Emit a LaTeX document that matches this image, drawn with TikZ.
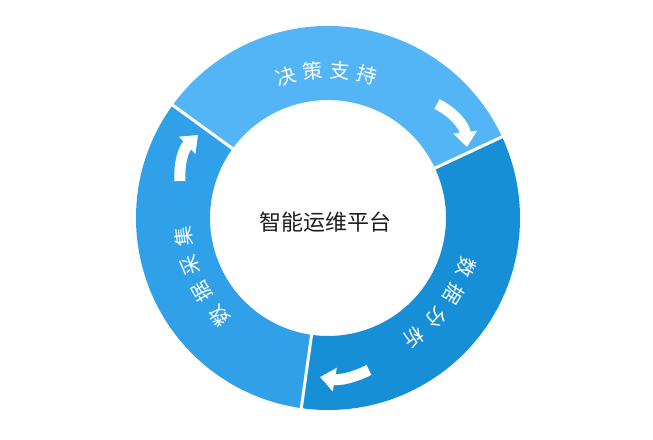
\documentclass[tikz,border=0pt]{standalone}
\usepackage{fontspec}
\newfontfamily\cjk{Noto Sans CJK SC}
\usetikzlibrary{arrows.meta}
\definecolor{segtop}{RGB}{84,181,246}
\definecolor{segleft}{RGB}{48,160,232}
\definecolor{segright}{RGB}{22,143,214}
\definecolor{hubtext}{RGB}{30,30,30}
\tikzset{
  ringlabel/.style={text=white, font=\cjk\fontsize{20}{20}\selectfont, inner sep=0pt},
  hublabel/.style={text=hubtext, font=\cjk\fontsize{22}{22}\selectfont, inner sep=0pt},
  cycarrow/.style={draw=white, line width=11pt, -{Triangle[length=15pt,width=23pt]}},
  divider/.style={draw=white, line width=3pt},
}
\begin{document}
\begin{tikzpicture}[x=1pt,y=1pt]
\useasboundingbox[fill=white] (0,0) rectangle (653,439);
\coordinate (C) at (328,221);
\begin{scope}[shift={(C)}]
  % ring sectors
  \fill[segtop] (25:192pt) arc[start angle=25,end angle=144,radius=192pt]
     -- (144:118pt) arc[start angle=144,end angle=25,radius=118pt] -- cycle;
  \fill[segleft] (144:192pt) arc[start angle=144,end angle=262,radius=192pt]
     -- (262:118pt) arc[start angle=262,end angle=144,radius=118pt] -- cycle;
  \fill[segright] (262:192pt) arc[start angle=262,end angle=385,radius=192pt]
     -- (25:118pt) arc[start angle=385,end angle=262,radius=118pt] -- cycle;
  % dividers
  \draw[divider] (25:116pt) -- (25:194pt);
  \draw[divider] (144:116pt) -- (144:194pt);
  \draw[divider] (262:116pt) -- (262:194pt);
  % ring labels
  \foreach \ch/\a [count=\i] in {决/106.5,策/95.9,支/85.3,持/74.7}
    \node[ringlabel, rotate=\a-90] (top\i) at (\a:148pt) {\ch};
  \foreach \ch/\a [count=\i] in {数/222,据/210.5,采/199,集/187.5}
    \node[ringlabel, rotate=\a-90] (left\i) at (\a:146pt) {\ch};
  \foreach \ch/\a [count=\i] in {数/-19.7,据/-31.3,分/-42.9,析/-54.5}
    \node[ringlabel, rotate=\a-90] (right\i) at (\a:147pt) {\ch};
\end{scope}
% centre
\node[hublabel] (hub) at (325,217) {智能运维平台};
% cycle arrows
\coordinate (ta1) at (437,335);
\coordinate (ta2) at (467,292);
\draw[cycarrow] (ta1) to[bend left=28] (ta2);
\coordinate (ba1) at (369,69);
\coordinate (ba2) at (320,62);
\draw[cycarrow] (ba1) to[bend left=18] (ba2);
\coordinate (la1) at (180,258);
\coordinate (la2) at (198,304);
\draw[cycarrow] (la1) to[bend left=25] (la2);
\end{tikzpicture}
\end{document}
